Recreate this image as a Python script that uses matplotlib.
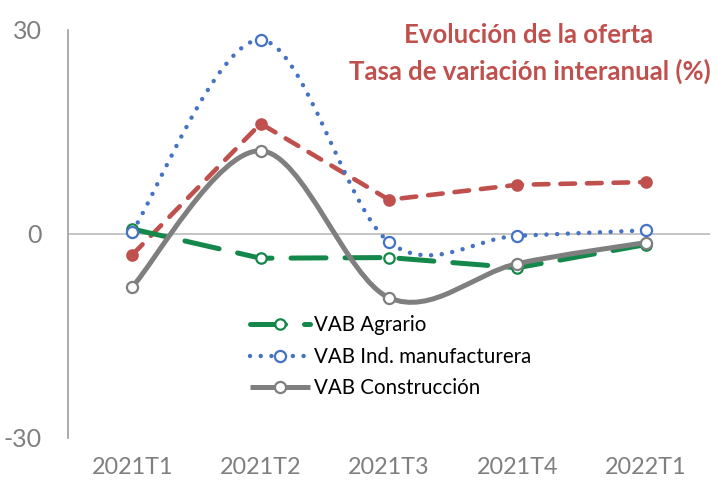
import numpy as np
import matplotlib.pyplot as plt
from matplotlib.path import Path
from matplotlib.patches import PathPatch
from matplotlib.lines import Line2D

plt.rcParams['font.family'] = ['Lato', 'DejaVu Sans']
plt.rcParams['axes.unicode_minus'] = False

periodos = ['2021T1', '2021T2', '2021T3', '2021T4', '2022T1']
agrario = [0.7, -3.6, -3.5, -5.0, -1.6]
manufactura = [0.3, 28.5, -1.2, -0.3, 0.5]
construccion = [-7.8, 12.2, -9.4, -4.4, -1.3]
servicios = [-3.1, 16.2, 5.0, 7.2, 7.6]


def suave(x, y):
    # curva tipo Excel (Catmull-Rom pasada a Bezier cubica)
    p = np.column_stack([x, y]).astype(float)
    q = np.vstack([p[0], p, p[-1]])
    verts = [p[0]]
    codes = [Path.MOVETO]
    for i in range(len(p) - 1):
        c1 = q[i + 1] + (q[i + 2] - q[i]) / 6
        c2 = q[i + 2] - (q[i + 3] - q[i + 1]) / 6
        verts += [c1, c2, q[i + 2]]
        codes += [Path.CURVE4] * 3
    return Path(verts, codes)


fig = plt.figure(figsize=(7.17, 4.88), dpi=100)
ax = fig.add_axes([0.095, 0.103, 0.895, 0.836])
x = np.arange(len(periodos))

ax.axhline(0, color='#bfbfbf', lw=1.3, zorder=1)

# valores, color, estilo, grosor, relleno marcador, tam. marcador, suavizado, etiqueta
series = [
    (servicios, '#c0504d', (0, (3.2, 2.6)), 3.3, '#c0504d', 7.5, False, None),
    (agrario, '#14874a', (0, (7.0, 3.8)), 3.6, 'white', 7.5, False, 'VAB Agrario'),
    (manufactura, '#4472c4', (0, (0.01, 2.4)), 3.2, 'white', 8.0, True, 'VAB Ind. manufacturera'),
    (construccion, '#7f7f7f', '-', 3.6, 'white', 8.0, True, 'VAB Construcción'),
]

handles = []
for vals, col, ls, lw, mfc, ms, curva, lab in series:
    if curva:
        patch = PathPatch(suave(x, vals), fill=False, edgecolor=col, lw=lw,
                          linestyle=ls, capstyle='round', zorder=2)
        ax.add_patch(patch)
    else:
        ax.plot(x, vals, color=col, lw=lw, linestyle=ls,
                dash_capstyle='round', zorder=2)
    ax.plot(x, vals, ls='none', marker='o', ms=ms, mfc=mfc, mec=col,
            mew=1.6, zorder=3)
    if lab:
        handles.append(Line2D([], [], color=col, lw=lw, linestyle=ls,
                              dash_capstyle='round', solid_capstyle='butt',
                              marker='o', ms=ms, mfc=mfc, mec=col, mew=1.6,
                              label=lab))

ax.set_xlim(-0.5, 4.5)
ax.set_ylim(-30, 30)
ax.set_yticks([-30, 0, 30])
ax.set_xticks(x)
ax.set_xticklabels(periodos)
for s in ['top', 'right', 'bottom']:
    ax.spines[s].set_visible(False)
ax.spines['left'].set_color('#a6a6a6')
ax.spines['left'].set_linewidth(1.3)
ax.tick_params(axis='both', length=0, colors='#7f7f7f')
ax.tick_params(axis='y', labelsize=18, pad=19)
ax.tick_params(axis='x', labelsize=16.8, pad=14)

leg = ax.legend(handles=handles, loc='upper left', bbox_to_anchor=(0.255, 0.345),
                frameon=False, fontsize=14.8, handlelength=2.9,
                labelspacing=0.55, handletextpad=0.2)

fig.text(0.737, 0.928, 'Evolución de la oferta', color='#c0504d',
         fontsize=18.5, fontweight='bold', ha='center', va='center')
fig.text(0.739, 0.853, 'Tasa de variación interanual (%)', color='#c0504d',
         fontsize=18.5, fontweight='bold', ha='center', va='center')

fig.savefig('out.png', dpi=100)
